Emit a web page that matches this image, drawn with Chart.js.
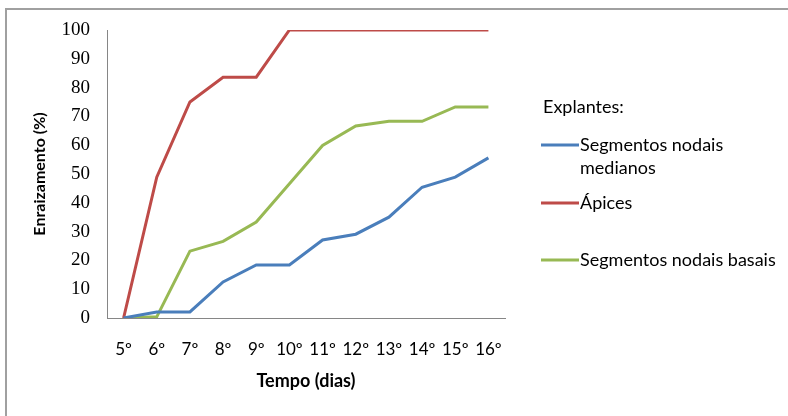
<!DOCTYPE html>
<html>
<head>
<meta charset="utf-8">
<script src="https://cdn.jsdelivr.net/npm/chart.js@4/dist/chart.umd.min.js"></script>
<style>
  html, body { margin: 0; padding: 0; background: #fff; }
  #wrap { width: 788px; height: 416px; position: relative; }
</style>
</head>
<body>
<div id="wrap"><canvas id="chart" width="788" height="416"></canvas></div>
<script>
const dias = ['5º', '6º', '7º', '8º', '9º', '10º', '11º', '12º', '13º', '14º', '15º', '16º'];
const medianos = [0, 2.1, 2.1, 12.5, 18.4, 18.4, 27.1, 29.1, 35, 45.4, 48.9, 55.6];
const apices = [0, 48.9, 75, 83.6, 83.6, 100, 100, 100, 100, 100, 100, 100];
const basais = [0, 0.4, 23.2, 26.6, 33.3, 46.6, 59.9, 66.7, 68.3, 68.3, 73.3, 73.3];
const nomes = [['Segmentos nodais', 'medianos'], ['Ápices'], ['Segmentos nodais basais']];
const cores = ['#4a7ebb', '#be4b48', '#98b954'];
const legendaY = [145, 203, 260];

// moldura (só topo e esquerda aparecem) + legenda à direita
const extras = {
    id: 'extras',
    afterDraw(chart) {
        const ctx = chart.ctx;
        ctx.save();
        ctx.strokeStyle = '#a0a0a0';
        ctx.lineWidth = 2;
        ctx.beginPath();
        ctx.moveTo(6, 416);
        ctx.lineTo(6, 9);
        ctx.lineTo(788, 9);
        ctx.stroke();

        ctx.fillStyle = '#000';
        ctx.font = '18px Lato';
        ctx.textBaseline = 'middle';
        ctx.fillText('Explantes:', 543, 107);
        chart.data.datasets.forEach((ds, i) => {
            const y = legendaY[i];
            ctx.strokeStyle = ds.borderColor;
            ctx.lineWidth = 3;
            ctx.beginPath();
            ctx.moveTo(541, y);
            ctx.lineTo(579, y);
            ctx.stroke();
            const linhas = nomes[i];
            linhas.forEach((t, j) => ctx.fillText(t, 580, y + j * 23));
        });
        ctx.restore();
    }
};

new Chart(document.getElementById('chart'), {
    type: 'line',
    data: {
        labels: dias,
        datasets: [
            { label: nomes[0].join(' '), data: medianos, borderColor: cores[0] },
            { label: nomes[1].join(' '), data: apices, borderColor: cores[1] },
            { label: nomes[2].join(' '), data: basais, borderColor: cores[2] }
        ]
    },
    options: {
        responsive: false,
        animation: false,
        events: [],
        layout: { padding: { left: 26, right: 283, top: 30, bottom: 20 } },
        elements: {
            line: { borderWidth: 3, tension: 0 },
            point: { radius: 0 }
        },
        plugins: {
            legend: { display: false },
            tooltip: { enabled: false }
        },
        scales: {
            x: {
                offset: true,
                grid: { display: false, drawTicks: false },
                border: { color: '#868686', width: 1 },
                ticks: { color: '#000', font: { family: 'Lato', size: 17 }, padding: 21, maxRotation: 0, autoSkip: false },
                title: { display: true, text: 'Tempo (dias)', color: '#000', font: { family: 'Lato', size: 18, weight: 'bold' }, padding: { top: 15 } },
                afterFit(s) { s.height = 78; }
            },
            y: {
                min: 0,
                max: 100,
                ticks: { stepSize: 10, color: '#000', font: { family: 'Liberation Serif', size: 19 }, padding: 12 },
                grid: { display: false, drawOnChartArea: false, drawTicks: true, tickLength: 5, color: '#868686' },
                border: { color: '#868686', width: 1 },
                title: { display: true, text: 'Enraizamento (%)', color: '#000', font: { family: 'Lato', size: 16, weight: 'bold' }, padding: { bottom: 6 } },
                afterFit(s) { s.width = 81; }
            }
        }
    },
    plugins: [extras]
});
</script>
</body>
</html>
